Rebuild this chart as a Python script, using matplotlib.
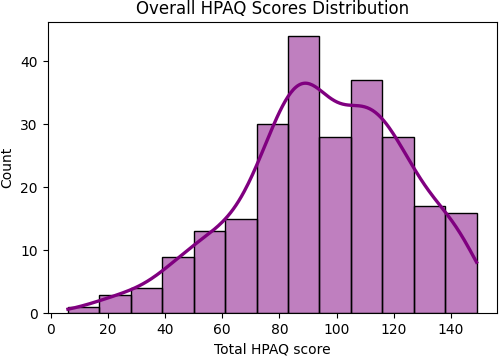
import numpy as np
import matplotlib.pyplot as plt

# Histogram of total HPAQ scores (bins of width 11, 6 -> 149)
bin_edges = [6, 17, 28, 39, 50, 61, 72, 83, 94, 105, 116, 127, 138, 149]
counts = [1, 3, 4, 9, 13, 15, 30, 44, 28, 37, 28, 17, 16]

edges = np.array(bin_edges, dtype=float)
cnt = np.array(counts, dtype=float)
centers = (edges[:-1] + edges[1:]) / 2
width = edges[1] - edges[0]
n = cnt.sum()

# gaussian kde on the binned values, scaled to counts like seaborn does
mean = np.average(centers, weights=cnt)
std = np.sqrt(np.average((centers - mean) ** 2, weights=cnt))
bw = std * n ** (-1 / 5) * 0.92
xs = np.linspace(edges[0], edges[-1], 300)
dens = (cnt[None, :] * np.exp(-0.5 * ((xs[:, None] - centers[None, :]) / bw) ** 2)).sum(axis=1)
dens = dens / (n * bw * np.sqrt(2 * np.pi))
kde_y = dens * n * width

fig, ax = plt.subplots(figsize=(5, 3.57), dpi=100)
ax.bar(edges[:-1], cnt, width=width, align='edge', color='purple', alpha=0.5,
       edgecolor='none')
ax.bar(edges[:-1], cnt, width=width, align='edge', fill=False,
       edgecolor='black', linewidth=1)
ax.plot(xs, kde_y, color='purple', linewidth=2.4)

ax.set_xlim(-1.15, 156.15)
ax.set_ylim(0, 46.2)
ax.set_xticks([0, 20, 40, 60, 80, 100, 120, 140])
ax.set_yticks([0, 10, 20, 30, 40])
ax.set_xlabel('Total HPAQ score')
ax.set_ylabel('Count')
ax.set_title('Overall HPAQ Scores Distribution')
fig.subplots_adjust(left=0.095, right=0.994, top=0.938, bottom=0.122)
fig.savefig('out.png')
